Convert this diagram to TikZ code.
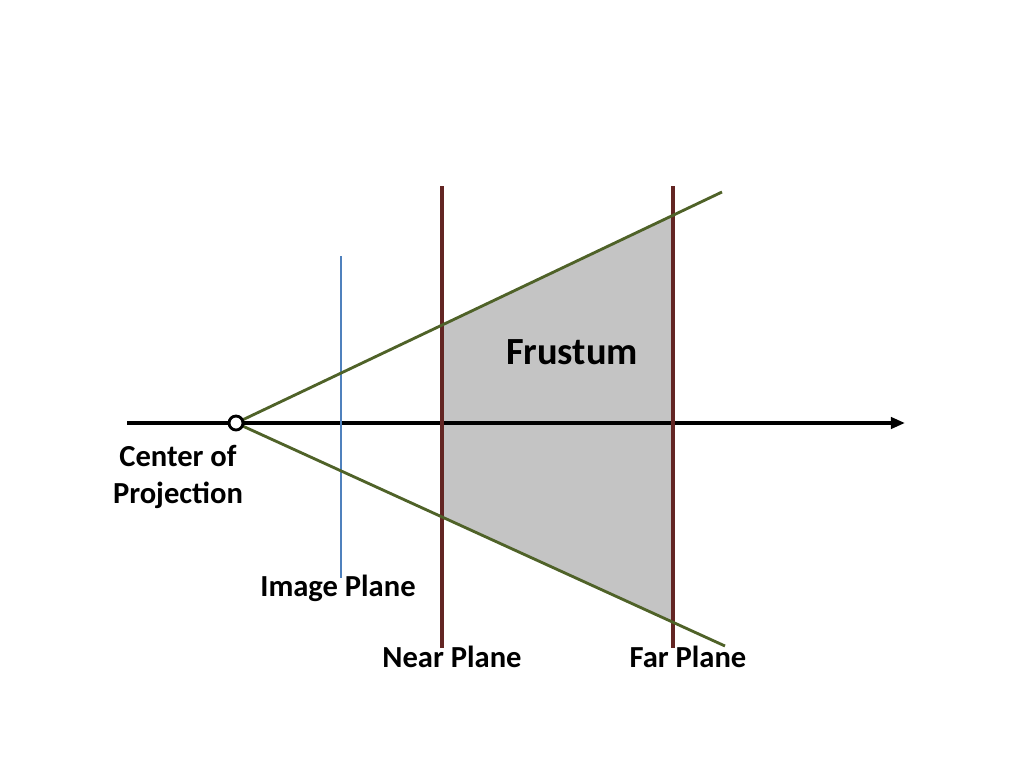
\documentclass[tikz,border=0pt]{standalone}
\usepackage{fontspec}
\setmainfont{Carlito}
\usetikzlibrary{arrows.meta}
\definecolor{coneGreen}{HTML}{4F6228}
\definecolor{planeRed}{HTML}{632523}
\definecolor{imgBlue}{HTML}{4F81BD}
\definecolor{frustGray}{HTML}{C4C4C4}
\tikzset{
  lbl/.style={font=\fontsize{21.5}{26}\selectfont\bfseries, inner sep=0pt},
  plane/.style={draw=planeRed, line width=2.2pt},
  cone/.style={draw=coneGreen, line width=2pt}
}
\begin{document}
\begin{tikzpicture}[x=0.703pt, y=-0.703pt]
  \useasboundingbox (0,0) rectangle (1024,768);
  \path (236,423) coordinate (O) -- (722,192) coordinate (U) -- (725,646) coordinate (L);
  \path (442,325) coordinate (NU) -- (673,215) coordinate (FU) -- (673,622) coordinate (FL) -- (442,517) coordinate (NL);
  % frustum
  \fill [frustGray] (NU) -- (FU) -- (FL) -- (NL) -- cycle;
  % optical axis
  \draw [line width=2.8pt] (127,423) coordinate (A0) -- (355,423) coordinate (A1);
  \draw [line width=2.4pt, -{Triangle[length=10pt,width=8pt]}] (O) -- (905,423) coordinate (A2);
  % planes
  \draw [draw=imgBlue, line width=2pt] (341,256) coordinate (I0) -- (341,578) coordinate (I1);
  \draw [plane] (442,186) coordinate (N0) -- (442,648) coordinate (N1);
  \draw [plane] (673,186) coordinate (F0) -- (673,648) coordinate (F1);
  \draw [cone] (U) -- (O) -- (L);
  \draw [fill=white, line width=2pt] (O) circle (7);
  % labels
  \node [lbl, align=center] (cop) at (178,477) {Center of\\Projection};
  \node [lbl] (img) at (338,588) {Image Plane};
  \node [lbl] (near) at (452,657) {Near Plane};
  \node [lbl] (far) at (688,657) {Far Plane};
  \node [lbl, font=\fontsize{27}{32}\selectfont\bfseries] (fr) at (572,352) {Frustum};
\end{tikzpicture}
\end{document}
